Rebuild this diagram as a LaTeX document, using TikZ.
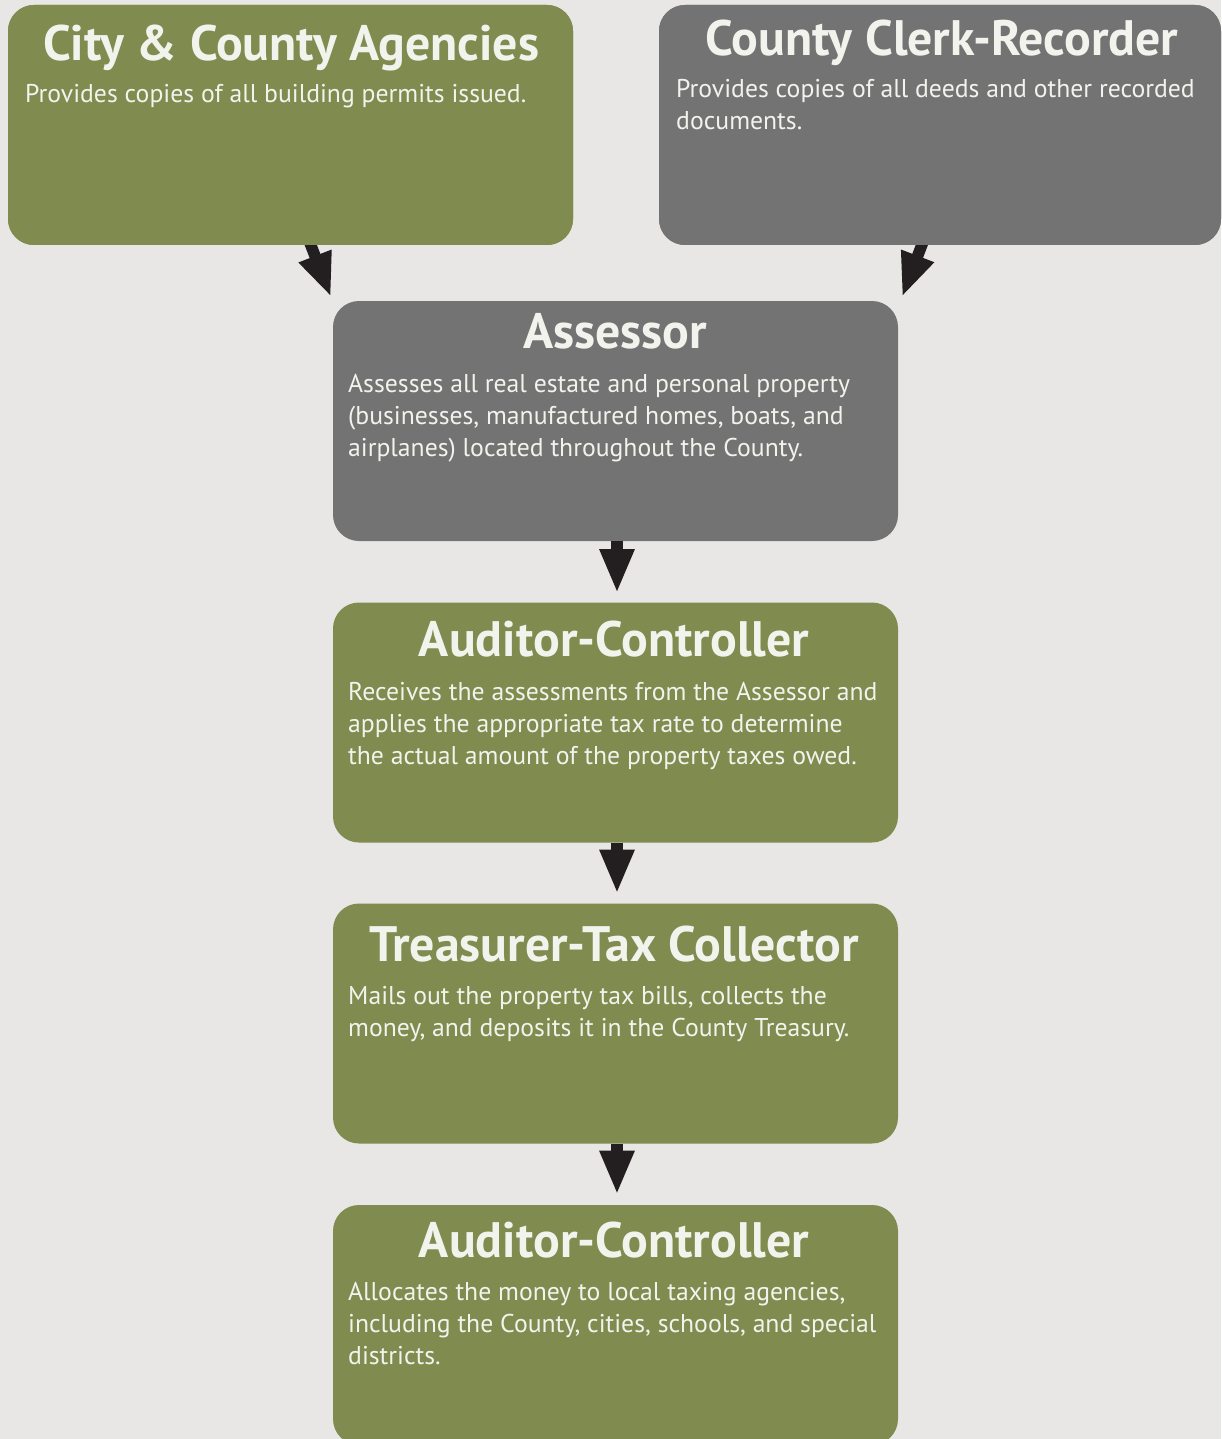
\documentclass[tikz,border=0pt]{standalone}
\usepackage{fontspec}
\setmainfont{PT Sans}
\usetikzlibrary{arrows.meta}
\definecolor{pagebg}{HTML}{E8E7E5}
\definecolor{olive}{HTML}{7F8B4F}
\definecolor{slate}{HTML}{737373}
\definecolor{ink}{HTML}{231F20}
\definecolor{paper}{HTML}{F2F3ED}
\begin{document}
\begin{tikzpicture}[x=1pt,y=-1pt,
  box/.style={rounded corners=26pt, minimum width=565pt, minimum height=240pt, inner sep=0pt, draw=none},
  title/.style={anchor=base, inner sep=0pt, text=paper, font=\fontsize{49.8}{50}\selectfont\bfseries},
  body/.style={anchor=base west, inner sep=0pt, text=paper, font=\fontsize{25.7}{32}\selectfont},
  flow/.style={draw=ink, line width=11.5pt, -{Triangle[length=44pt,width=32pt]}, ink}]
\useasboundingbox (0,0) rectangle (1221,1439);
\clip (0,0) rectangle (1221,1439);
\fill[pagebg] (0,0) rectangle (1221,1439);

% connector end points
\coordinate (tipL) at (331,297);
\coordinate (tipR) at (902,297);

% boxes
\node[box, fill=olive] (city) at (290.5,125) {};
\node[box, fill=slate, minimum width=562pt] (clerk) at (940,125) {};
\node[box, fill=slate] (assessor) at (615.5,421) {};
\node[box, fill=olive] (audit1) at (615.5,722.5) {};
\node[box, fill=olive] (treasurer) at (615.5,1023.5) {};
\node[box, fill=olive] (audit2) at (615.5,1325) {};

% connectors
\draw[flow] ([xshift=18pt]city.south) ++(0,-6) -- (tipL);
\draw[flow] ([xshift=-16pt]clerk.south) ++(0,-6) -- (tipR);
\draw[flow] ([xshift=1.5pt]assessor.south) -- ++(0,52);
\draw[flow] ([xshift=1.5pt]audit1.south) -- ++(0,51);
\draw[flow] ([xshift=1.5pt]treasurer.south) -- ++(0,51);

% repaint the two top boxes over the slanted shaft ends
\fill[olive, rounded corners=26pt] (8,5) rectangle (573,245);
\fill[slate, rounded corners=26pt] (659,5) rectangle (1221,245);

% titles
\node[title] (cityT) at (291,61) {City \& County Agencies};
\node[title] (clerkT) at (942,56) {County Clerk-Recorder};
\node[title] (assessorT) at (615,348) {Assessor};
\node[title] (audit1T) at (614,656) {Auditor-Controller};
\node[title] (treasurerT) at (614,961) {Treasurer-Tax Collector};
\node[title] (audit2T) at (614,1257) {Auditor-Controller};

% descriptions
\node[body] (cityB) at (25,103) {Provides copies of all building permits issued.};
\node[body] (clerkB) at (676,98) {\parbox[t]{560pt}{Provides copies of all deeds and other recorded\\documents.}};
\node[body] (assessorB) at (348,392) {\parbox[t]{560pt}{Assesses all real estate and personal property\\(businesses, manufactured homes, boats, and\\airplanes) located throughout the County.}};
\node[body] (audit1B) at (348,700) {\parbox[t]{560pt}{Receives the assessments from the Assessor and\\applies the appropriate tax rate to determine\\the actual amount of the property taxes owed.}};
\node[body] (treasurerB) at (348,1004) {\parbox[t]{560pt}{Mails out the property tax bills, collects the\\money, and deposits it in the County Treasury.}};
\node[body] (audit2B) at (348,1300) {\parbox[t]{560pt}{Allocates the money to local taxing agencies,\\including the County, cities, schools, and special\\districts.}};
\end{tikzpicture}
\end{document}
